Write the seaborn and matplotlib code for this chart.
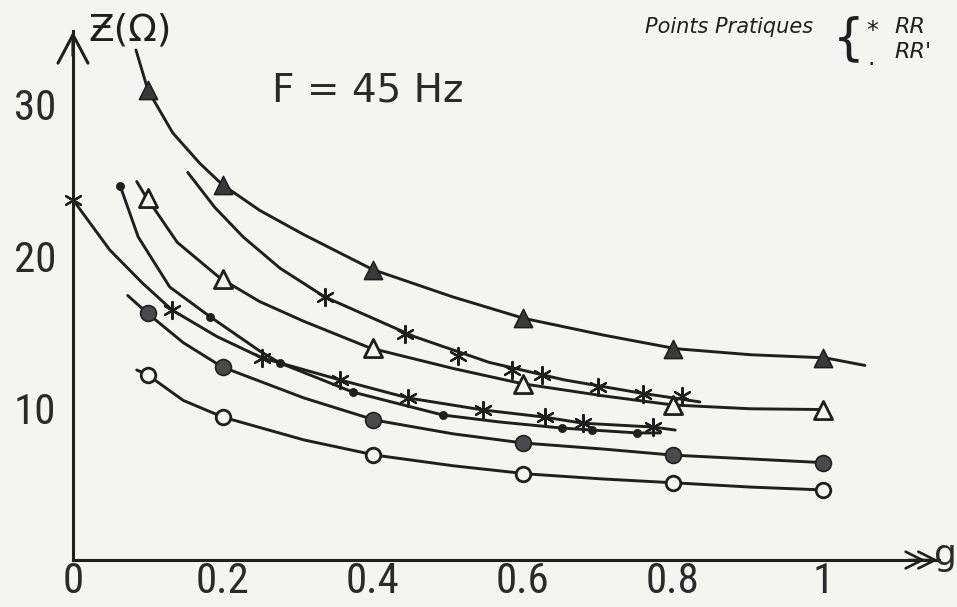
import matplotlib
matplotlib.use("Agg")
import matplotlib.pyplot as plt
from matplotlib import font_manager as fm
import seaborn as sns

# ---------------------------------------------------------------
# Impedance Z (ohm) versus slip g at F = 45 Hz
# ---------------------------------------------------------------
G_NOM = [0.1, 0.2, 0.4, 0.6, 0.8, 1.0]

# computed points (triangles and circles)
tri_full_z = [30.9, 24.7, 19.1, 15.9, 13.9, 13.3]
tri_open_z = [23.8, 18.5, 13.95, 11.6, 10.2, 9.9]
circ_full_z = [16.25, 12.7, 9.2, 7.7, 6.9, 6.4]
circ_open_z = [12.2, 9.4, 6.9, 5.66, 5.07, 4.6]

# practical points: RR (stars) and RR' (dots)
rr_a_g = [0.336, 0.443, 0.513, 0.585, 0.625, 0.70, 0.76, 0.812]
rr_a_z = [17.3, 14.9, 13.4, 12.5, 12.2, 11.4, 10.9, 10.8]
rr_b_g = [0.0, 0.132, 0.252, 0.356, 0.447, 0.547, 0.629, 0.68, 0.773]
rr_b_z = [23.7, 16.45, 13.3, 11.85, 10.66, 9.87, 9.4, 9.0, 8.75]
rrp_g = [0.063, 0.183, 0.276, 0.373, 0.493, 0.652, 0.692, 0.752]
rrp_z = [24.6, 16.0, 12.96, 11.05, 9.54, 8.68, 8.55, 8.36]

# traced curves
c_tri_full_g = [0.084, 0.100, 0.133, 0.169, 0.199, 0.249, 0.308, 0.400, 0.507,
                0.601, 0.707, 0.804, 0.905, 1.003, 1.056]
c_tri_full_z = [33.55, 30.9, 28.1, 26.1, 24.7, 23.0, 21.4, 19.1, 17.3,
                15.9, 14.8, 13.9, 13.5, 13.3, 12.8]
c_rr_a_g = [0.153, 0.189, 0.227, 0.276, 0.336, 0.455, 0.555, 0.655, 0.755, 0.836]
c_rr_a_z = [25.5, 23.2, 21.25, 19.2, 17.3, 14.7, 13.0, 11.85, 11.0, 10.4]
c_tri_open_g = [0.085, 0.096, 0.139, 0.196, 0.249, 0.308, 0.396, 0.507, 0.599,
                0.707, 0.80, 0.903, 0.999]
c_tri_open_z = [24.9, 24.0, 20.9, 18.55, 17.0, 15.7, 13.95, 12.6, 11.6,
                10.8, 10.2, 9.95, 9.9]
c_rrp_g = [0.063, 0.087, 0.129, 0.183, 0.249, 0.276, 0.373, 0.493, 0.569,
           0.652, 0.752, 0.783]
c_rrp_z = [24.6, 21.25, 17.96, 16.0, 13.75, 12.96, 11.05, 9.54, 9.08,
           8.68, 8.36, 8.36]
c_rr_b_g = [0.0, 0.049, 0.093, 0.132, 0.192, 0.252, 0.356, 0.447, 0.547,
            0.629, 0.68, 0.773, 0.803]
c_rr_b_z = [23.7, 20.4, 18.2, 16.45, 14.7, 13.3, 11.85, 10.66, 9.87,
            9.4, 9.0, 8.75, 8.55]
c_circ_full_g = [0.073, 0.099, 0.147, 0.199, 0.308, 0.403, 0.507, 0.60, 0.707,
                 0.80, 0.903, 1.003]
c_circ_full_z = [17.4, 16.25, 14.3, 12.7, 10.66, 9.2, 8.3, 7.7, 7.3,
                 6.9, 6.65, 6.4]
c_circ_open_g = [0.085, 0.099, 0.147, 0.20, 0.308, 0.403, 0.507, 0.607, 0.707,
                 0.805, 0.903, 1.005]
c_circ_open_z = [12.5, 12.2, 10.5, 9.4, 7.9, 6.9, 6.2, 5.66, 5.33,
                 5.07, 4.8, 4.6]

x_ticks = [0, 0.2, 0.4, 0.6, 0.8, 1.0]
x_tick_labels = ["0", "0.2", "0.4", "0.6", "0.8", "1"]
y_ticks = [10, 20, 30]
y_tick_labels = ["10", "20", "30"]

INK = "#1f1f1f"
BG = "#f4f4f1"


def narrow_font():
    """Pick a narrow sans face for the big hand-lettered numerals."""
    entries = fm.fontManager.ttflist
    names = {f.name for f in entries}
    for name in ["Liberation Sans Narrow", "Roboto Condensed",
                 "Open Sans Condensed", "Noto Sans Condensed",
                 "DejaVu Sans Condensed"]:
        if name in names:
            return dict(family=[name, "DejaVu Sans"], stretch="normal", size=31)
    for f in entries:
        if str(f.stretch) in ("condensed", "semi-condensed", "extra-condensed") \
                and f.name in ("DejaVu Sans", "Noto Sans", "Roboto", "Open Sans"):
            return dict(family=[f.name, "DejaVu Sans"], stretch=f.stretch, size=30)
    return dict(family=["DejaVu Sans"], stretch="normal", size=25)


NARROW = narrow_font()

sns.set_theme(style="white")
plt.rcParams["font.family"] = ["DejaVu Sans"]

fig = plt.figure(figsize=(9.57, 6.07), dpi=100)
fig.patch.set_facecolor(BG)
ax = fig.add_axes([0, 0, 1, 1])
ax.set_facecolor(BG)
ax.set_xlim(-0.0973, 1.1787)
ax.set_ylim(-3.09, 36.84)

# curves
curves = [
    (c_tri_full_g, c_tri_full_z),
    (c_rr_a_g, c_rr_a_z),
    (c_tri_open_g, c_tri_open_z),
    (c_rrp_g, c_rrp_z),
    (c_rr_b_g, c_rr_b_z),
    (c_circ_full_g, c_circ_full_z),
    (c_circ_open_g, c_circ_open_z),
]
for cg, cz in curves:
    sns.lineplot(x=cg, y=cz, sort=False, estimator=None, color=INK,
                 linewidth=2.1, ax=ax)

# markers
sns.scatterplot(x=G_NOM, y=tri_full_z, marker="^", s=170, color="#3a3a3a",
                edgecolor=INK, linewidth=1.2, zorder=5, ax=ax)
sns.scatterplot(x=G_NOM, y=tri_open_z, marker="^", s=170, color=BG,
                edgecolor=INK, linewidth=2.0, zorder=5, ax=ax)
sns.scatterplot(x=G_NOM, y=circ_full_z, marker="o", s=130, color="#4a4a4a",
                edgecolor=INK, linewidth=1.2, zorder=5, ax=ax)
sns.scatterplot(x=G_NOM, y=circ_open_z, marker="o", s=110, color=BG,
                edgecolor=INK, linewidth=2.0, zorder=5, ax=ax)
for sg, sz in [(rr_a_g, rr_a_z), (rr_b_g, rr_b_z)]:
    sns.scatterplot(x=sg, y=sz, marker=(6, 2, 0), s=150, color=INK,
                    linewidth=1.6, zorder=6, ax=ax)
sns.scatterplot(x=rrp_g, y=rrp_z, marker="o", s=35, color=INK,
                edgecolor=INK, linewidth=0.5, zorder=6, ax=ax)

# axes with arrows
for side in ["top", "right"]:
    ax.spines[side].set_visible(False)
for side in ["left", "bottom"]:
    ax.spines[side].set_position(("data", 0))
    ax.spines[side].set_color(INK)
    ax.spines[side].set_linewidth(2.2)
ax.spines["left"].set_bounds(0, 34.8)
ax.spines["bottom"].set_bounds(0, 1.155)

ax.annotate("", xy=(0, 34.95), xytext=(0, 33.0),
            arrowprops=dict(arrowstyle="->,head_length=1.7,head_width=0.9",
                            lw=2.2, color=INK))
for tip in (1.14, 1.157):
    ax.annotate("", xy=(tip, 0), xytext=(tip - 0.03, 0),
                arrowprops=dict(arrowstyle="->,head_length=1.0,head_width=0.5",
                                lw=1.9, color=INK))

ax.set_xticks(x_ticks)
ax.set_xticklabels(x_tick_labels)
ax.set_yticks(y_ticks)
ax.set_yticklabels(y_tick_labels)
ax.tick_params(axis="both", direction="inout", length=14, width=1.6,
               colors=INK, labelcolor="#2a2a2a")
ax.tick_params(axis="x", pad=-6)
ax.tick_params(axis="y", pad=5)
for lab in ax.get_xticklabels() + ax.get_yticklabels():
    lab.set_family(NARROW["family"])
    lab.set_stretch(NARROW["stretch"])
    lab.set_fontsize(NARROW["size"])
ax.grid(False)
ax.set_xlabel("")
ax.set_ylabel("")

# axis names and annotations
ax.text(0.076, 34.85, "Ƶ(Ω)", fontsize=27, color=INK, ha="center",
        va="center", clip_on=False)
ax.text(1.148, 0.3, "g", fontsize=26, color="#2a2a2a", ha="left",
        va="center", clip_on=False)
ax.text(0.393, 30.9, "F = 45 Hz", fontsize=28, color="#2a2a2a",
        ha="center", va="center")

fig.text(0.674, 0.972, "Points Pratiques", fontsize=15, style="italic",
         color=INK, ha="left", va="top")
fig.text(0.870, 0.975, "{", fontsize=36, color=INK, ha="left", va="top")
fig.text(0.905, 0.968, "*", fontsize=17, color=INK, ha="left", va="top")
fig.text(0.935, 0.972, "RR", fontsize=16, style="italic", color=INK,
         ha="left", va="top")
fig.text(0.907, 0.925, ".", fontsize=17, color=INK, ha="left", va="top")
fig.text(0.935, 0.930, "RR'", fontsize=16, style="italic", color=INK,
         ha="left", va="top")

fig.savefig("out.png", dpi=100, facecolor=BG)
